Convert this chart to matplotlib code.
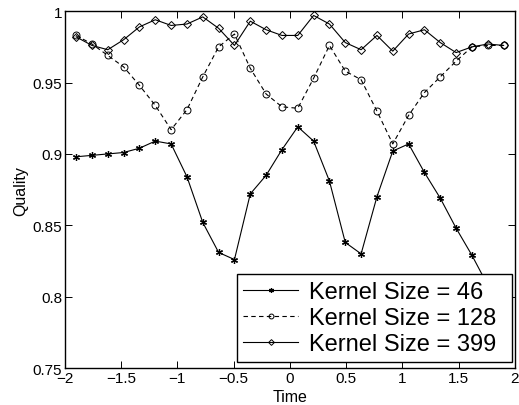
import numpy as np
import matplotlib
matplotlib.use('Agg')
import matplotlib.pyplot as plt

plt.rcParams['font.family'] = ['Liberation Sans', 'DejaVu Sans']

####################
# DATA
####################
time = np.linspace(-1.9, 1.9, 28)

q46 = [0.898, 0.899, 0.900, 0.901, 0.904, 0.909, 0.907, 0.884, 0.852, 0.831,
       0.826, 0.872, 0.885, 0.903, 0.919, 0.909, 0.881, 0.838, 0.830, 0.870,
       0.902, 0.907, 0.887, 0.869, 0.848, 0.829, 0.808, 0.788]

q128 = [0.983, 0.977, 0.969, 0.961, 0.948, 0.934, 0.917, 0.931, 0.954, 0.975,
        0.984, 0.960, 0.942, 0.933, 0.932, 0.953, 0.976, 0.958, 0.952, 0.930,
        0.907, 0.927, 0.943, 0.954, 0.965, 0.975, 0.976, 0.976]

q399 = [0.982, 0.976, 0.973, 0.980, 0.989, 0.994, 0.990, 0.991, 0.996, 0.988,
        0.976, 0.993, 0.987, 0.983, 0.983, 0.997, 0.991, 0.978, 0.973, 0.983,
        0.972, 0.984, 0.987, 0.978, 0.971, 0.975, 0.977, 0.976]

xticks = [-2, -1.5, -1, -0.5, 0, 0.5, 1, 1.5, 2]
xticklabels = ['\u22122', '\u22121.5', '\u22121', '\u22120.5', '0', '0.5', '1', '1.5', '2']
yticks = [0.75, 0.8, 0.85, 0.9, 0.95, 1]
yticklabels = ['0.75', '0.8', '0.85', '0.9', '0.95', '1']

labels = ['Kernel Size = 46', 'Kernel Size = 128', 'Kernel Size = 399']

####################
# PLOT
####################
fig = plt.figure(figsize=(5.19, 4.06), dpi=100)
ax = fig.add_axes([0.125, 0.091, 0.867, 0.879])

asterisk = (6, 2, 0)
ax.plot(time, q46, color='k', lw=0.8, marker=asterisk, ms=5, mew=0.9,
        label=labels[0])
ax.plot(time, q128, color='k', lw=0.8, ls=(0, (4, 3)), marker='o', ms=5,
        mfc='none', mew=0.7, label=labels[1])
ax.plot(time, q399, color='k', lw=0.8, marker='D', ms=4.2, mfc='none',
        mew=0.7, label=labels[2])

ax.set_xlim(-2, 2)
ax.set_ylim(0.75, 1)
ax.set_xticks(xticks)
ax.set_xticklabels(xticklabels)
ax.set_yticks(yticks)
ax.set_yticklabels(yticklabels)
ax.tick_params(direction='in', top=True, right=True, length=5, width=0.7,
               labelsize=11, pad=2)
for s in ax.spines.values():
    s.set_linewidth(1.0)

ax.set_xlabel('Time', fontsize=11.5, labelpad=3)
ax.set_ylabel('Quality', fontsize=11.5, labelpad=3)

leg = ax.legend(loc='lower right', bbox_to_anchor=(0.382, 0.017, 0.611, 0.246),
                mode='expand', fontsize=17, frameon=True, fancybox=False,
                edgecolor='k', framealpha=1, borderpad=0.28, labelspacing=0.18,
                handlelength=2.3, handletextpad=0.5, borderaxespad=0,
                markerscale=0.7)
leg.get_frame().set_linewidth(1.0)

fig.savefig('out.png', dpi=100)
